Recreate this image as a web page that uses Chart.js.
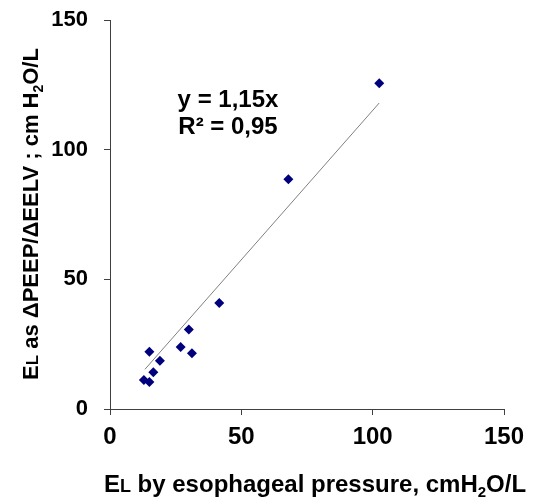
<!DOCTYPE html>
<html>
<head>
<meta charset="utf-8">
<script src="https://cdn.jsdelivr.net/npm/chart.js@4.4.0/dist/chart.umd.min.js"></script>
<style>
  html, body { margin: 0; padding: 0; background: #fff; }
  #wrap { width: 534px; height: 500px; }
</style>
</head>
<body>
<div id="wrap"><canvas id="chart" width="534" height="500"></canvas></div>
<script>
// measured points: EL by esophageal pressure vs EL as dPEEP/dEELV
const esoEL = [15.0, 19.0, 16.5, 12.9, 15.0, 26.9, 30.0, 31.2, 41.6, 67.9, 102.5];
const peepEL = [22.1, 18.6, 14.2, 11.2, 10.4, 23.9, 30.7, 21.5, 40.9, 88.6, 125.6];

// trend line ends (y = 1,15x)
const trendX = [13.3, 102.5];
const trendY = [15.3, 118.0];

const axisTicks = [0, 50, 100, 150];
const eqLines = ['y = 1,15x', 'R² = 0,95'];

const FAM = '"Liberation Sans", Arial, sans-serif';
const big = 'bold 24px ' + FAM;
const small = 'bold 18px ' + FAM;
const sub = 'bold 15px ' + FAM;
const bigY = 'bold 22px ' + FAM;
const smallY = 'bold 17px ' + FAM;
const subY = 'bold 14px ' + FAM;

// draw text pieces with small L and subscript 2
function drawRich(ctx, parts, x, y) {
  let total = 0;
  parts.forEach(p => { ctx.font = p.font; total += ctx.measureText(p.t).width; });
  let cx = x - total / 2;
  parts.forEach(p => {
    ctx.font = p.font;
    ctx.fillText(p.t, cx, y + (p.dy || 0));
    cx += ctx.measureText(p.t).width;
  });
}

const titles = {
  id: 'titles',
  afterDraw(chart) {
    const ctx = chart.ctx;
    ctx.save();
    ctx.fillStyle = '#000';
    ctx.textAlign = 'left';
    ctx.textBaseline = 'alphabetic';

    // x title
    drawRich(ctx, [
      { t: 'E', font: big },
      { t: 'L', font: small },
      { t: ' by esophageal pressure, cmH', font: big },
      { t: '2', font: sub, dy: 5 },
      { t: 'O/L', font: big }
    ], 315, 492);

    // y title
    ctx.translate(38, 214);
    ctx.rotate(-Math.PI / 2);
    drawRich(ctx, [
      { t: 'E', font: bigY },
      { t: 'L', font: smallY },
      { t: ' as \u0394PEEP/\u0394EELV ; cm H', font: bigY },
      { t: '2', font: subY, dy: 5 },
      { t: 'O/L', font: bigY }
    ], 0, 0);
    ctx.restore();

    // equation
    ctx.save();
    ctx.fillStyle = '#000';
    ctx.font = big;
    ctx.textAlign = 'center';
    ctx.fillText(eqLines[0], 228, 107);
    ctx.fillText(eqLines[1], 228, 134);
    ctx.restore();
  }
};

new Chart(document.getElementById('chart'), {
  type: 'scatter',
  data: {
    datasets: [
      {
        label: 'data',
        data: esoEL.map((x, i) => ({ x: x, y: peepEL[i] })),
        pointStyle: 'rectRot',
        pointRadius: 5,
        backgroundColor: '#00007f',
        borderColor: '#00007f',
        borderWidth: 0
      },
      {
        type: 'line',
        label: 'trend',
        data: trendX.map((x, i) => ({ x: x, y: trendY[i] })),
        borderColor: '#808080',
        borderWidth: 1,
        pointRadius: 0,
        fill: false
      }
    ]
  },
  options: {
    responsive: false,
    animation: false,
    layout: { padding: { top: 20, right: 30, left: 0, bottom: 0 } },
    plugins: { legend: { display: false }, tooltip: { enabled: false } },
    scales: {
      x: {
        type: 'linear',
        min: 0, max: 150,
        afterBuildTicks: s => { s.ticks = axisTicks.map(v => ({ value: v })); },
        afterFit: s => { s.height = 91; s.paddingLeft = 0; s.paddingRight = 0; },
        grid: { drawOnChartArea: false, drawTicks: true, tickLength: 6, color: '#404040' },
        border: { color: '#404040', width: 1 },
        ticks: { color: '#000', font: { family: FAM, size: 24, weight: 'bold' }, padding: 8, maxRotation: 0 }
      },
      y: {
        type: 'linear',
        min: 0, max: 150,
        afterBuildTicks: s => { s.ticks = axisTicks.map(v => ({ value: v })); },
        afterFit: s => { s.width = 110; s.paddingTop = 0; s.paddingBottom = 0; },
        grid: { drawOnChartArea: false, drawTicks: true, tickLength: 6, color: '#404040' },
        border: { color: '#404040', width: 1 },
        ticks: { color: '#000', font: { family: FAM, size: 22, weight: 'bold' }, padding: 16 }
      }
    }
  },
  plugins: [titles]
});
</script>
</body>
</html>
